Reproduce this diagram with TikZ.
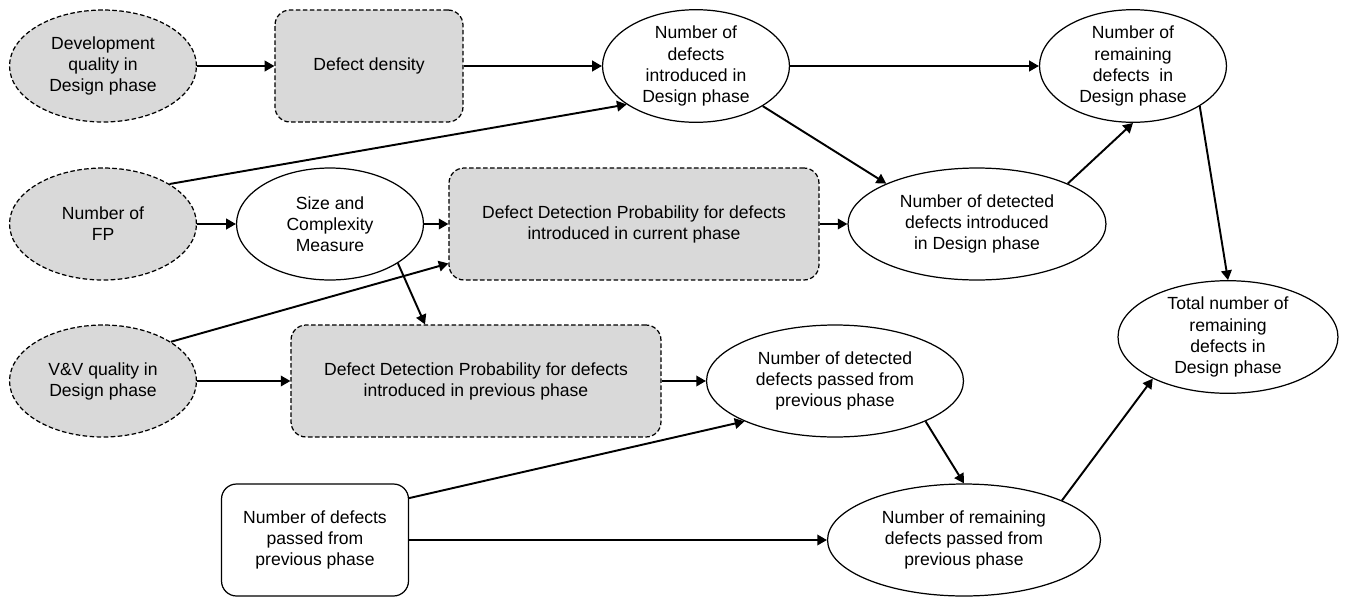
\documentclass[tikz,border=0pt]{standalone}
\usepackage{fontspec}
\setmainfont{Liberation Sans}
\usetikzlibrary{arrows.meta}
\usetikzlibrary{positioning}
\usetikzlibrary{shapes.geometric}

\definecolor{nodegrey}{HTML}{D9D9D9}

\tikzset{
  ellbase/.style={ellipse, draw, line width=0.7pt, align=center, inner sep=0pt,
    minimum width=3.74cm, minimum height=2.24cm, font=\fontsize{10}{12}\selectfont},
  boxbase/.style={rectangle, rounded corners=0.3cm, draw, line width=0.7pt, align=center,
    inner sep=0pt, minimum width=3.76cm, minimum height=2.24cm, font=\fontsize{10}{12}\selectfont},
  greyell/.style={ellbase, fill=nodegrey, dash pattern=on 2.6pt off 1.4pt},
  whiteell/.style={ellbase, fill=white},
  greybox/.style={boxbase, fill=nodegrey, dash pattern=on 2.6pt off 1.4pt},
  whitebox/.style={boxbase, fill=white},
  arr/.style={-{Triangle[length=5.5pt,width=6pt]}, line width=1.1pt}
}

\begin{document}
\begin{tikzpicture}[x=0.02cm, y=-0.02cm]
    \useasboundingbox (0,0) rectangle (1347,599);

    % Design phase, top row
    \node[greyell] (devq) at (103,66) {Development\\quality in\\Design phase};
    \node[greybox] (density) at (369,66) {Defect density};
    \node[whiteell] (intro) at (696,66) {Number of\\defects\\introduced in\\Design phase};
    \node[whiteell] (remain) at (1133,66) {Number of\\remaining\\defects\ \ in\\Design phase};

    % middle row
    \node[greyell] (fp) at (103,224) {Number of\\FP};
    \node[whiteell] (size) at (330,224) {Size and\\Complexity\\Measure};
    \node[greybox, minimum width=7.4cm] (ddpcur) at (634,224)
        {Defect Detection Probability for defects\\introduced in current phase};
    \node[whiteell, minimum width=5.16cm] (detintro) at (977,224)
        {Number of detected\\defects introduced\\in Design phase};
    \node[whiteell, minimum width=4.4cm] (total) at (1228,337)
        {Total number of\\remaining\\defects in\\Design phase};

    % previous phase
    \node[greyell] (vv) at (103,381) {V\&V quality in\\Design phase};
    \node[greybox, minimum width=7.4cm] (ddpprev) at (476,381)
        {Defect Detection Probability for defects\\introduced in previous phase};
    \node[whiteell, minimum width=5.14cm] (detpass) at (835,381)
        {Number of detected\\defects passed from\\previous phase};
    \node[whitebox, minimum width=3.74cm] (passed) at (315,540)
        {Number of defects\\passed from\\previous phase};
    \node[whiteell, minimum width=5.46cm] (rempass) at (964,540)
        {Number of remaining\\defects passed from\\previous phase};

    % Pfeile
    \draw[arr] (devq.east) -- (density.west);
    \draw[arr] (density.east) -- (intro.west);
    \draw[arr] (intro.east) -- (remain.west);
    \draw[arr] (fp.31) -- (intro.209);
    \draw[arr] (fp.east) -- (size.west);
    \draw[arr] (size.east) -- (ddpcur.west);
    \draw[arr] (size.330) -- (ddpprev.132);
    \draw[arr] (vv.30) -- (ddpcur.192);
    \draw[arr] (vv.east) -- (ddpprev.west);
    \draw[arr] (intro.329) -- (detintro.156);
    \draw[arr] (ddpcur.east) -- (detintro.west);
    \draw[arr] (detintro.24) -- (remain.south);
    \draw[arr] (remain.329) -- (total.north);
    \draw[arr] (ddpprev.east) -- (detpass.west);
    \draw[arr] (passed.24) -- (detpass.204);
    \draw[arr] (passed.east) -- (rempass.west);
    \draw[arr] (detpass.336) -- (rempass.north);
    \draw[arr] (rempass.22) -- (total.209);
\end{tikzpicture}
\end{document}
